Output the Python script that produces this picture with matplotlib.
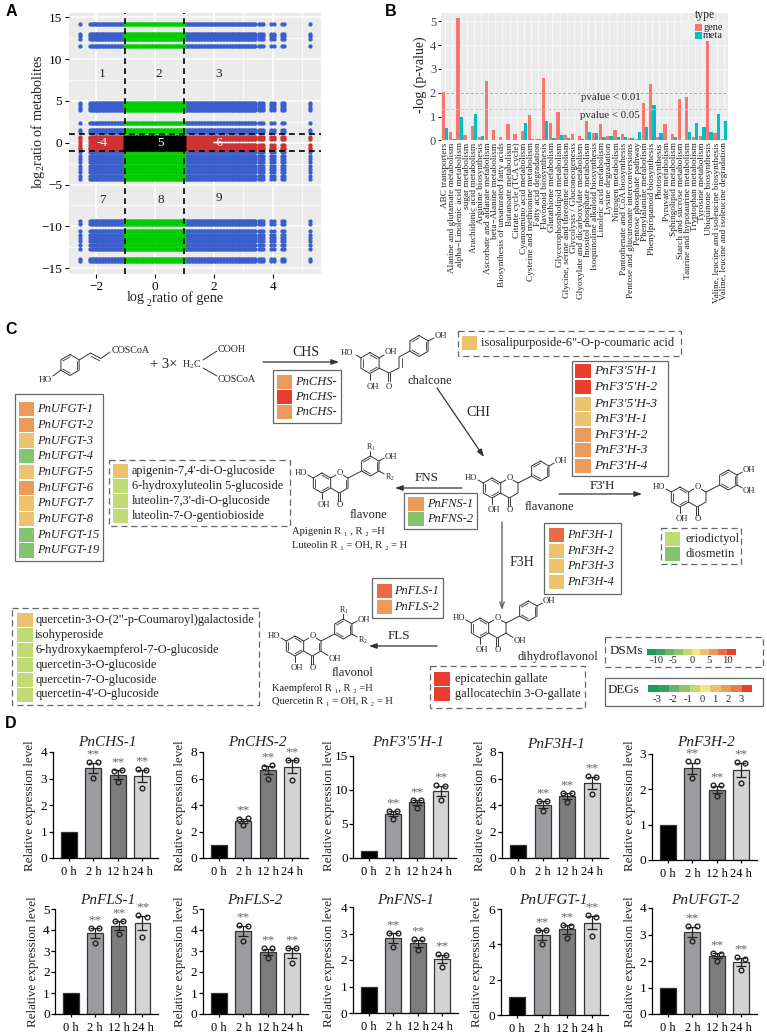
import numpy as np
import matplotlib
matplotlib.use('Agg')
import matplotlib.pyplot as plt
from matplotlib.patches import Rectangle

plt.rcParams['font.family'] = ['Liberation Serif', 'DejaVu Serif']
plt.rcParams['mathtext.fontset'] = 'custom'
plt.rcParams['mathtext.rm'] = 'Liberation Serif'
plt.rcParams['mathtext.default'] = 'regular'

W, H = 767, 1033

# panel A, values of the nine-quadrant plot
gene_log2 = [-2.55, -2.2, -2.15, -2.1, -2.05, -2.0, -1.95, -1.9, -1.85, -1.8, -1.75, -1.7, -1.65, -1.6,
             -1.55, -1.5, -1.45, -1.4, -1.35, -1.3, -1.25, -1.2, -1.15, -1.1, -1.05, -1.0, -0.95, -0.9,
             -0.85, -0.8, -0.75, -0.7, -0.65, -0.6, -0.55, -0.5, -0.45, -0.4, -0.35, -0.3, -0.25, -0.2,
             -0.15, -0.1, -0.05, 0.0, 0.05, 0.1, 0.15, 0.2, 0.25, 0.3, 0.35, 0.4, 0.45, 0.5, 0.55, 0.6,
             0.65, 0.7, 0.75, 0.8, 0.85, 0.9, 0.95, 1.0, 1.05, 1.1, 1.15, 1.2, 1.25, 1.3, 1.35, 1.4,
             1.45, 1.5, 1.55, 1.6, 1.65, 1.7, 1.75, 1.8, 1.85, 1.9, 1.95, 2.0, 2.05, 2.1, 2.15, 2.2,
             2.25, 2.3, 2.35, 2.4, 2.45, 2.5, 2.55, 2.6, 2.65, 2.7, 2.75, 2.8, 2.85, 2.9, 2.95, 3.0,
             3.05, 3.1, 3.15, 3.2, 3.25, 3.3, 3.35, 3.4, 3.52, 3.6, 3.68,
             3.95, 4.03, 4.3, 4.36, 5.25]
metab_log2 = [14.2, 13.05, 12.75, 12.45, 11.6, 4.75, 4.45, 4.15, 3.95, 2.4, 1.55, 1.25, 0.7, 0.4, 0.05,
              -0.3, -0.6, -0.75, -1.15, -1.55, -1.95, -2.35, -2.75, -3.15, -3.55, -3.95, -4.3,
              -9.4, -9.7, -10.6, -11.0, -11.4, -11.8, -12.2, -12.65, -13.85, -14.15]

# panel B, -log(p-value) of each pathway
pathways = ['ABC transporters', 'Alanine and glutamate metabolism', 'alpha\u2212Linolenic acid metabolism',
            'sugar metabolism', 'Arachidonic acid metabolism', 'Arginine biosynthesis',
            'Ascorbate and aldarate metabolism', 'beta\u2212Alanine metabolism',
            'Biosynthesis of unsaturated fatty acids', 'Butanoate metabolism', 'Citrate cycle (TCA cycle)',
            'Cyanoamino acid metabolism', 'Cysteine and methionine metabolism', 'Fatty acid degradation',
            'Flavonoid biosynthesis', 'Glutathione metabolism', 'Glycerophospholipid metabolism',
            'Glycine, serine and threonine metabolism', 'Glycolysis / Gluconeogenesis',
            'Glyoxylate and dicarboxylate metabolism', 'Inositol phosphate metabolism',
            'Isoquinoline alkaloid biosynthesis', 'Linoleic acid metabolism', 'Lysine degradation',
            'Nitrogen metabolism', 'Pantothenate and CoA biosynthesis',
            'Pentose and glucuronate interconversions', 'Pentose phosphate pathway',
            'Phenylalanine metabolism', 'Phenylpropanoid biosynthesis', 'Photosynthesis',
            'Pyruvate metabolism', 'Sphingolipid metabolism', 'Starch and sucrose metabolism',
            'Taurine and hypotaurine metabolism', 'Tryptophan metabolism', 'Tyrosine metabolism',
            'Ubiquinone biosynthesis', 'Valine, leucine and isoleucine biosynthesis',
            'Valine, leucine and isoleucine degradation']
gene_p = [2.05, 0.36, 5.12, 0.22, 0.6, 0.13, 2.5, 0.42, 0.15, 0.68, 0.25, 0.4, 1.07, 0.05, 2.6, 0.72,
          1.2, 0.22, 0.28, 0.18, 0.8, 0.3, 0.68, 0.18, 0.45, 0.28, 0.1, 0.07, 1.56, 2.37, 0.12, 0.7,
          0.25, 1.73, 1.8, 0.13, 0.17, 4.17, 0.3, 0.06]
meta_p = [0.5, 0.05, 1.0, 0.0, 1.1, 0.16, 0.02, 0.02, 0.0, 0.0, 0.0, 0.72, 0.04, 0.05, 0.83, 0.1,
          0.22, 0.11, 0.02, 0.05, 0.33, 0.3, 0.14, 0.18, 0.12, 0.13, 0.1, 0.35, 0.55, 1.5, 0.3, 0.02,
          0.13, 0.01, 0.33, 0.72, 0.57, 0.33, 1.1, 0.83]

# panel C, gene and metabolite lists
ORG, RED, YEL, GRN, LGR, ROR = '#EC9A5C', '#E93D2E', '#EDC26F', '#85C46F', '#BEDB74', '#EA6C45'
ufgt_names = ['PnUFGT-1', 'PnUFGT-2', 'PnUFGT-3', 'PnUFGT-4', 'PnUFGT-5', 'PnUFGT-6', 'PnUFGT-7',
              'PnUFGT-8', 'PnUFGT-15', 'PnUFGT-19']
ufgt_cols = [ORG, ORG, YEL, GRN, YEL, ORG, YEL, YEL, GRN, GRN]
chs_names = ['PnCHS-', 'PnCHS-', 'PnCHS-']
chs_cols = [ORG, RED, ORG]
f35h_names = ["PnF3'5'H-1", "PnF3'5'H-2", "PnF3'5'H-3", "PnF3'H-1", "PnF3'H-2", "PnF3'H-3", "PnF3'H-4"]
f35h_cols = [RED, RED, YEL, YEL, ORG, ORG, ORG]
fns_names = ['PnFNS-1', 'PnFNS-2']
fns_cols = [ORG, GRN]
f3h_names = ['PnF3H-1', 'PnF3H-2', 'PnF3H-3', 'PnF3H-4']
f3h_cols = [ROR, YEL, YEL, YEL]
fls_names = ['PnFLS-1', 'PnFLS-2']
fls_cols = [ROR, ORG]
flavone_mets = ["apigenin-7,4'-di-O-glucoside", '6-hydroxyluteolin 5-glucoside',
                "luteolin-7,3'-di-O-glucoside", 'luteolin-7-O-gentiobioside']
flavone_cols = [YEL, LGR, LGR, LGR]
flavonol_mets = ['quercetin-3-O-(2"-p-Coumaroyl)galactoside', 'isohyperoside',
                 '6-hydroxykaempferol-7-O-glucoside', 'quercetin-3-O-glucoside',
                 'quercetin-7-O-glucoside', "quercetin-4'-O-glucoside"]
flavonol_cols = [YEL, LGR, LGR, LGR, LGR, LGR]
dsm_cols = ['#1A9C5A', '#3BA660', '#66B666', '#8FC568', '#BEDB74', '#EFE67E', '#EDBF6C', '#EC9A5C', '#EA6C45', '#E93D2E']
deg_cols = ['#1A9C5A', '#2FA25C', '#66B666', '#8FC568', '#BEDB74', '#EFE67E', '#EDBF6C', '#EC9A5C', '#EA7A4C', '#E93D2E']
dsm_ticks = ['-10', '-5', '0', '5', '10']
deg_ticks = ['-3', '-2', '-1', '0', '1', '2', '3']

# panel D, relative expression, bars and replicates (2 h, 12 h, 24 h)
times = ['0 h', '2 h', '12 h', '24 h']
qpcr_titles = ['PnCHS-1', 'PnCHS-2', "PnF3'5'H-1", 'PnF3H-1', 'PnF3H-2',
               'PnFLS-1', 'PnFLS-2', 'PnFNS-1', 'PnUFGT-1', 'PnUFGT-2']
qpcr_means = [[1, 3.4, 3.15, 3.1], [1, 2.8, 6.65, 6.9], [1, 6.5, 8.2, 9.85], [1, 4.03, 4.65, 5.66],
              [1, 2.6, 1.99, 2.55], [1, 3.85, 4.2, 4.32], [1, 3.96, 2.96, 2.9], [1, 2.83, 2.63, 2.03],
              [1, 4.53, 4.85, 5.23], [1, 3.11, 2.2, 1.96]]
qpcr_reps = [
    [[3.62, 3.62, 3.02], [3.3, 3.33, 2.85], [3.37, 3.33, 2.64]],
    [[2.94, 3.0, 2.5], [6.9, 7.0, 6.0], [7.4, 7.4, 5.85]],
    [[6.9, 6.9, 5.8], [8.6, 8.6, 7.4], [10.8, 10.6, 8.5]],
    [[4.33, 4.33, 3.57], [4.9, 4.9, 4.2], [6.16, 6.1, 4.86]],
    [[2.79, 2.79, 2.32], [2.11, 2.11, 1.8], [2.77, 2.74, 2.18]],
    [[4.11, 4.11, 3.4], [4.45, 4.45, 3.8], [4.72, 4.64, 3.69]],
    [[4.24, 4.2, 3.5], [3.16, 3.13, 2.69], [3.16, 3.13, 2.45]],
    [[3.02, 3.02, 2.5], [2.78, 2.78, 2.37], [2.22, 2.18, 1.72]],
    [[4.81, 4.81, 4.0], [5.09, 5.04, 4.34], [5.66, 5.57, 4.47]],
    [[3.31, 3.31, 2.74], [2.3, 2.28, 1.99], [2.14, 2.09, 1.67]],
]
qpcr_ymax = [4, 8, 15, 8, 3, 5, 5, 4, 6, 4]
qpcr_yticks = [[0, 1, 2, 3, 4], [0, 2, 4, 6, 8], [0, 5, 10, 15], [0, 2, 4, 6, 8], [0, 1, 2, 3],
               [0, 1, 2, 3, 4, 5], [0, 1, 2, 3, 4, 5], [0, 1, 2, 3, 4], [0, 2, 4, 6], [0, 1, 2, 3, 4]]
bar_cols = ['black', '#9C9CA0', '#7C7C7C', '#D4D4D4']

# pixel frames of the small charts: axis left, right, y of top tick, y of zero
qpcr_frames = [(52.7, 158, 752, 858), (202.7, 308, 752, 858), (353.3, 456, 756, 858),
               (501.7, 608, 752, 858), (651.7, 757, 754, 860), (55, 158, 909, 1014),
               (202.7, 308, 909, 1014), (352.7, 458, 907, 1013), (500.7, 608, 909, 1015),
               (651.7, 757, 908, 1014)]
ylabel_pos = [(30, 806), (180, 806), (329, 806), (480, 806), (630, 806),
              (33, 962), (180, 962), (329, 962), (477, 962), (630, 962)]
title_pos = [(107, 742), (257, 742), (408, 742), (556, 744), (706, 742),
             (108, 900), (255, 900), (406, 900), (553, 900), (705, 900)]


def ax_px(left, top, right, bottom, **kw):
    return fig.add_axes([left / W, 1 - bottom / H, (right - left) / W, (bottom - top) / H], **kw)


fig = plt.figure(figsize=(W / 100, H / 100), dpi=100, facecolor='white')

# ---- A
axa = ax_px(69, 13, 321, 274, facecolor='#EBEBEB')
gx, gy = np.meshgrid(gene_log2, metab_log2)
gx, gy = gx.ravel(), gy.ravel()
# the middle row of the red band is empty right of x=1.9
keep = ~((gy == 0.05) & (gx > 1.9))
gx, gy = gx[keep], gy[keep]
in_x = np.abs(gx) <= 1
in_y = np.abs(gy) <= 1
for mask, col in [(~in_x & ~in_y, '#3A5FCD'), (in_x & ~in_y, '#00CD00'),
                  (~in_x & in_y, '#CD3333'), (in_x & in_y, 'black')]:
    axa.scatter(gx[mask], gy[mask], s=9.5, c=col, linewidths=0, zorder=3)
axa.set_xlim(-2.915, 5.63)
axa.set_ylim(-15.69, 15.5)
axa.set_xticks([-2, 0, 2, 4])
axa.set_yticks([-15, -10, -5, 0, 5, 10, 15])
axa.set_xticks([-1, 1, 3, 5], minor=True)
axa.set_yticks(np.arange(-12.5, 15, 5), minor=True)
axa.grid(True, which='major', color='white', lw=1.1, zorder=0)
axa.grid(True, which='minor', color='white', lw=0.5, zorder=0)
axa.set_axisbelow(True)
axa.tick_params(which='minor', length=0)
axa.tick_params(which='major', length=3, width=0.8, labelsize=9.5, pad=2)
for s in axa.spines.values():
    s.set_visible(False)
for v in [-1, 1]:
    axa.axvline(v, color='black', ls=(0, (3.5, 2.5)), lw=1.2, zorder=4)
    axa.axhline(v, color='black', ls=(0, (3.5, 2.5)), lw=1.2, zorder=4)

# ---- B
axb = ax_px(441, 13, 728, 140.3, facecolor='#EBEBEB')
pos = np.arange(len(pathways))
axb.bar(pos - 0.225, gene_p, width=0.45, color='#F8766D', zorder=3)
axb.bar(pos + 0.225, meta_p, width=0.45, color='#00BFC4', zorder=3)
axb.axhline(2, color='#F08A80', ls=(0, (3, 2)), lw=0.7, zorder=4)
axb.axhline(1.3, color='#A9D3EA', ls=(0, (3, 2)), lw=0.7, zorder=4)
axb.set_xlim(-0.6, 39.6)
axb.set_ylim(0, 5.35)
axb.set_yticks(range(6))
axb.set_xticks(pos)
axb.set_xticklabels(pathways, rotation=90, fontsize=6.7, color='#222222', linespacing=1)
axb.tick_params(axis='x', length=0, pad=1.5)
axb.tick_params(axis='y', length=2, width=0.6, labelsize=9, labelcolor='#444444', pad=1.5)
axb.grid(True, axis='both', color='white', lw=0.4, zorder=0)
axb.set_axisbelow(True)
for s in axb.spines.values():
    s.set_visible(False)

# overlay in pixel coordinates for texts and panel C
ov = fig.add_axes([0, 0, 1, 1], facecolor='none', zorder=10)
ov.set_xlim(0, W)
ov.set_ylim(H, 0)
ov.axis('off')


def txt(x, y, s, size=8.9, ha='left', va='center', **kw):
    kw.setdefault('color', '#222222')
    return ov.text(x, y, s, fontsize=size, ha=ha, va=va, **kw)


def line(xs, ys, lw=0.7, color='#333333', **kw):
    ov.plot(xs, ys, color=color, lw=lw, solid_capstyle='round', **kw)


def arrow(x0, y0, x1, y1, color='#333333', lw=0.9, style='-|>'):
    ov.annotate('', xy=(x1, y1), xytext=(x0, y0),
                arrowprops=dict(arrowstyle=style + ',head_length=0.45,head_width=0.16', color=color, lw=lw,
                                shrinkA=0, shrinkB=0))


def box(x0, y0, x1, y1, dashed=False):
    ls = (0, (5, 3)) if dashed else '-'
    ov.add_patch(Rectangle((x0, y0), x1 - x0, y1 - y0, fc='none', ec='#666666', lw=0.9, ls=ls))


def swatches(x0, x1, tops, height, cols, names, xt, italic=True, size=8.9):
    for top, c, n in zip(tops, cols, names):
        ov.add_patch(Rectangle((x0, top), x1 - x0, height, fc=c, ec='none'))
        txt(xt, top + height / 2, n, size=size, style='italic' if italic else 'normal')


def hexring(cx, cy, r=10, dbl=()):
    ang = np.radians(90 + 60 * np.arange(7))
    xs, ys = cx + r * np.cos(ang), cy - r * np.sin(ang)
    line(xs, ys)
    for i in dbl:
        line([cx + 0.78 * (xs[i] - cx), cx + 0.78 * (xs[i + 1] - cx)],
             [cy + 0.78 * (ys[i] - cy), cy + 0.78 * (ys[i + 1] - cy)], lw=0.6)


def flavonoid(cx, cy, kind):
    # A ring, C ring and B ring of the flavonoid skeleton
    hexring(cx, cy, dbl=(1, 3, 5))
    c3_x, c4_x = cx + 26, cx + 17.3
    line([cx + 8.66, c4_x, c3_x, c3_x, c4_x, cx + 8.66], [cy - 5, cy - 10, cy - 5, cy + 5, cy + 10, cy + 5])
    if kind in ('flavone', 'flavonol'):
        line([c3_x - 2.5, c3_x - 2.5], [cy - 3.5, cy + 3.5], lw=0.6)
    bx, by = cx + 48.3, cy - 17
    hexring(bx, by, dbl=(0, 2, 4))
    line([c3_x, bx - 8.66], [cy - 5, by + 5])
    txt(c4_x, cy - 10, 'O', size=6.2, ha='center', bbox=dict(fc='white', ec='none', pad=0.4))
    line([cx - 8.66, cx - 14], [cy - 5, cy - 8])
    txt(cx - 14.5, cy - 10, 'HO', size=6.2, ha='right')
    line([cx, cx], [cy + 10, cy + 16])
    txt(cx + 2, cy + 22, 'OH', size=6.2, ha='center')
    line([c4_x - 1, c4_x - 1], [cy + 10, cy + 18])
    line([c4_x + 1, c4_x + 1], [cy + 10, cy + 18])
    txt(c4_x + 0.5, cy + 22, 'O', size=6.2, ha='center')
    line([bx + 8.66, bx + 14], [by - 5, by - 8])
    if kind == 'eriodictyol':
        txt(bx + 14.5, by - 10, 'OH', size=6.2)
        line([bx + 8.66, bx + 14], [by + 5, by + 8])
        txt(bx + 14.5, by + 11, 'OH', size=6.2)
    elif kind in ('flavone', 'flavonol'):
        txt(bx + 14.5, by - 9, 'OH', size=6.2)
        line([bx, bx], [by - 10, by - 15])
        txt(bx + 0.5, by - 19, 'R$_1$', size=5.8, ha='center')
        line([bx + 8.66, bx + 14], [by + 5, by + 8])
        txt(bx + 14.5, by + 11, 'R$_2$', size=5.8)
    else:
        txt(bx + 14.5, by - 10, 'OH', size=6.2)
    if kind in ('flavonol', 'dihydroflavonol'):
        line([c3_x, c3_x + 7], [cy + 5, cy + 9.5])
        txt(c3_x + 8, cy + 13, 'OH', size=6.2)


# texts of A
txt(127, 298, 'log', size=10.2)
txt(146.5, 303, '2', size=7)
txt(152, 298, 'ratio of gene', size=10.2)
txt(38, 122, 'log$_2$ratio of metabolites', size=10.2, ha='center', rotation=90)
for x, y, s, c in [(102, 74, '1', '#222222'), (159, 74, '2', '#222222'), (219, 74, '3', '#222222'),
                   (102, 143, '-4', 'white'), (161, 143, '5', 'white'), (220, 143, '-6-', 'white'),
                   (102, 200, '7', '#222222'), (161, 200, '8', '#222222'), (219, 198, '9', '#222222')]:
    txt(x, y, s, size=9.5, ha='center', color=c)

# texts of B
txt(420, 75, '-log (p-value)', size=10, ha='center', rotation=90)
txt(581, 97, 'pvalue < 0.01', size=7.8)
txt(580, 115, 'pvalue < 0.05', size=7.8)
ov.add_patch(Rectangle((683, 21), 43, 19, fc='#F0F0F0', ec='none'))
txt(695, 15, 'type', size=8.4)
ov.add_patch(Rectangle((695, 24), 7, 7, fc='#F8766D', ec='none'))
ov.add_patch(Rectangle((695, 31.5), 7, 7, fc='#00BFC4', ec='none'))
txt(703, 27, 'gene', size=7.4)
txt(703, 35, 'meta', size=7.4)

# panel letters
for x, y, s in [(11, 11, 'A'), (391, 11, 'B'), (11, 329, 'C'), (11, 723, 'D')]:
    ov.text(x, y, s, fontsize=11.5, fontweight='bold', family='Liberation Sans', ha='center', va='center')

# ---- C: start materials
hexring(70, 365, 10.5, dbl=(0, 2, 4))
line([53, 61], [376, 370])
txt(45, 380, 'HO', size=6.6, ha='center')
line([79, 90.5, 101, 110], [360, 353, 358.5, 352])
line([91.5, 100], [356.5, 361], lw=0.6)
txt(112, 350.5, 'COSCoA', size=7.2)
txt(150, 365, '+ 3×', size=10.5)
txt(182, 365, 'H$_2$C', size=7.2)
line([203, 217], [360, 351])
line([203, 217], [368, 376])
txt(218, 349, 'COOH', size=7.2)
txt(218, 379, 'COSCoA', size=7.2)
arrow(263, 362, 339, 362)
txt(306, 353, 'CHS', size=10, ha='center')

# chalcone
hexring(370, 363, 10.5, dbl=(1, 3, 5))
line([379, 384], [358, 355])
txt(391, 352, 'OH', size=6.2, ha='center')
line([361, 356], [358, 355])
txt(347, 353, 'HO', size=6.2, ha='center')
line([370, 370], [373.5, 380])
txt(373, 387, 'OH', size=6.2, ha='center')
line([379, 389, 399, 399, 410], [368, 373, 368, 357, 351])
line([401.5, 401.5], [358, 367], lw=0.6)
line([388, 388], [373, 381])
line([390, 390], [373, 381])
txt(389, 387, 'O', size=6.2, ha='center')
hexring(419, 346, 10.5, dbl=(0, 2, 4))
line([428, 434], [341, 338])
txt(435, 335.5, 'OH', size=6.2)
txt(430, 381, 'chalcone', size=9, ha='center')

# boxes with genes and metabolites
box(458, 331, 681, 356, dashed=True)
swatches(462, 477, [336], 14, [YEL], ['isosalipurposide-6"-O-p-coumaric acid'], 481, italic=False)
box(15, 394, 103, 561)
swatches(19, 34, [402 + 15.7 * i for i in range(10)], 14.3, ufgt_cols, ufgt_names, 37, size=9)
box(273, 370, 341, 423)
swatches(277, 292, [375, 390, 405], 14, chs_cols, chs_names, 295, size=9)
box(572, 361, 668, 476)
swatches(575, 591, [364, 380, 397, 412, 428, 443, 459], 14, f35h_cols, f35h_names, 594, size=9.6)
box(404, 493, 477, 529)
swatches(408, 424, [497, 512], 14, fns_cols, fns_names, 427)
box(544, 523, 621, 594)
swatches(549, 564, [528, 544, 559, 575], 14, f3h_cols, f3h_names, 567)
box(372, 578, 443, 618)
swatches(377, 392, [584, 600], 14, fls_cols, fls_names, 394)
box(109, 460, 290, 526, dashed=True)
swatches(113, 128, [464, 479, 494, 509], 14, flavone_cols, flavone_mets, 132, italic=False)
box(12, 608, 259, 705, dashed=True)
swatches(17, 33, [613, 628, 643, 658, 673, 687.5], 14, flavonol_cols, flavonol_mets, 35, italic=False)
box(430, 666, 585, 708, dashed=True)
swatches(434, 450, [672, 687], 14, [RED, RED], ['epicatechin gallate', 'gallocatechin 3-O-gallate'], 455, italic=False)
box(661, 528, 741, 564, dashed=True)
swatches(665, 680, [532, 547], 14, [LGR, GRN], ['eriodictyol', 'diosmetin'], 686, italic=False)

# flavonoid structures
flavonoid(492, 488, 'flavanone')
flavonoid(680, 497, 'eriodictyol')
flavonoid(322, 483, 'flavone')
flavonoid(295, 646, 'flavonol')
flavonoid(480, 628, 'dihydroflavonol')
txt(549, 507, 'flavanone', size=9, ha='center')
txt(368, 515, 'flavone', size=9, ha='center')
txt(353, 673, 'flavonol', size=9, ha='center')
txt(558, 657, 'dihydroflavonol', size=9, ha='center')
txt(292, 532, 'Apigenin R \u2081 , R \u2082 =H', size=7.6)
txt(292, 545, 'Luteolin R \u2081 = OH, R \u2082 = H', size=7.6)
txt(272, 688, 'Kaempferol R \u2081, R \u2082 =H', size=7.6)
txt(272, 702, 'Quercetin R \u2081 = OH, R \u2082 = H', size=7.6)

# pathway arrows
arrow(437, 388, 484, 457)
txt(478, 412, 'CHI', size=10, ha='center')
arrow(462, 488, 395, 488)
txt(427, 478, 'FNS', size=9.4, ha='center')
arrow(559, 494, 642, 494)
txt(602, 486, "F3'H", size=9.4, ha='center')
arrow(502, 522, 502, 610, color='#555555', style='->')
txt(522, 563, 'F3H', size=10, ha='center')
arrow(437, 646, 369, 646)
txt(399, 636, 'FLS', size=9.4, ha='center')

# colour keys
box(605, 637, 763, 667, dashed=True)
txt(626, 651, 'DSMs', size=9.4, ha='center')
for c, xl in zip(dsm_cols, np.linspace(647, 736, len(dsm_cols) + 1)):
    ov.add_patch(Rectangle((xl, 649), 89 / len(dsm_cols), 6, fc=c, ec='none'))
for lab, x in zip(dsm_ticks, [657, 673, 692, 709, 727]):
    txt(x, 660.5, lab, size=7.6, ha='center')
box(605, 678, 763, 706)
txt(624, 690, 'DEGs', size=9.4, ha='center')
for c, xl in zip(deg_cols, np.linspace(648, 752, len(deg_cols) + 1)):
    ov.add_patch(Rectangle((xl, 685), 104 / len(deg_cols), 7, fc=c, ec='none'))
for lab, x in zip(deg_ticks, [657, 673, 688, 702, 715, 728, 741]):
    txt(x, 699.5, lab, size=7.6, ha='center')

# ---- D
for k, (l, r, t, b) in enumerate(qpcr_frames):
    ax = ax_px(l, t, r, b, facecolor='none')
    ymax = qpcr_ymax[k]
    ax.bar(range(4), qpcr_means[k], width=0.65, color=bar_cols, edgecolor='#333333', linewidth=0.9, zorder=2)
    for j, reps in enumerate(qpcr_reps[k], start=1):
        se = np.std(reps, ddof=1) / np.sqrt(3)
        ax.errorbar(j, qpcr_means[k][j], yerr=se, color='#222222', lw=0.9, capsize=3.5, capthick=0.9, zorder=3)
        # two upper replicates sit side by side, the low one in the middle
        ax.plot([j - 0.17, j + 0.17, j], reps, 'o', ms=3.4, mfc='none', mec='#222222', mew=1.0, zorder=4,
                clip_on=False, ls='none')
        ax.annotate('**', xy=(j, max(reps)), xytext=(0, 1.2), textcoords='offset points', ha='center',
                    va='bottom', fontsize=9.5, color='#666666', annotation_clip=False)
    ax.set_xlim(-0.668, 3.65)
    ax.set_ylim(0, ymax)
    ax.set_yticks(qpcr_yticks[k])
    ax.set_xticks(range(4))
    ax.set_xticklabels(times, fontsize=9)
    ax.tick_params(axis='y', length=3, width=0.9, labelsize=9.6, pad=0.8)
    ax.tick_params(axis='x', length=2.5, width=0.9, pad=3)
    for side in ['top', 'right']:
        ax.spines[side].set_visible(False)
    for side in ['left', 'bottom']:
        ax.spines[side].set_linewidth(0.9)
    txt(*ylabel_pos[k], 'Relative expression level', size=9.4, ha='center', rotation=90)
    txt(*title_pos[k], qpcr_titles[k], size=11, ha='center', style='italic')

fig.savefig('out.png', dpi=100)
